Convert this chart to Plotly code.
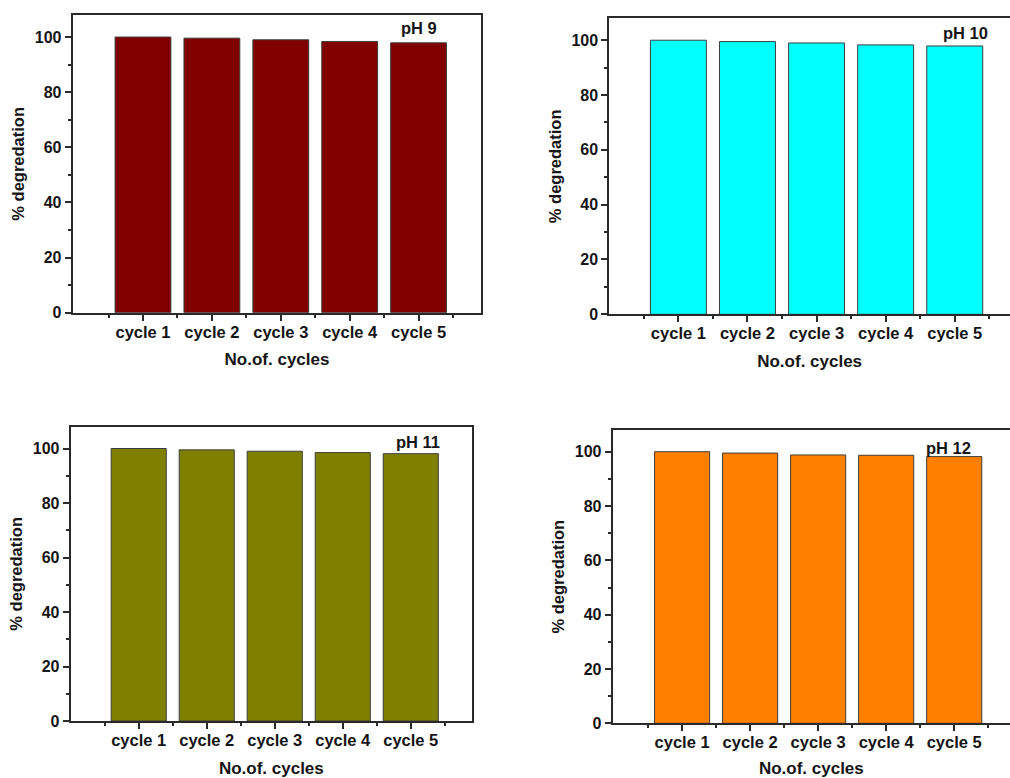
import plotly.graph_objects as go

# Degradation efficiency over five reuse cycles at four pH values
categories = ["cycle 1", "cycle 2", "cycle 3", "cycle 4", "cycle 5"]
ph9 = [100.0, 99.6, 99.0, 98.4, 97.9]
ph10 = [100.0, 99.5, 99.0, 98.3, 97.9]
ph11 = [100.0, 99.5, 99.0, 98.5, 98.1]
ph12 = [100.0, 99.5, 98.8, 98.7, 98.2]
panel_labels = ["pH 9", "pH 10", "pH 11", "pH 12"]
y_ticks = [0, 20, 40, 60, 80, 100]

W, H = 1010, 778
FONT = "Arial, 'Liberation Sans', sans-serif"
AXIS_COLOR = "#2a2a2a"
TEXT_COLOR = "#151515"

# (values, colour, x-pixel span, y-pixel span (top, bottom), x range, right frame, label x, label y)
panels = [
    (ph9, "#800000", (72.7, 481.3), (15.0, 312.7), [-1.02, 4.91], True, 4.0, 103.2),
    (ph10, "#00FFFF", (609.3, 1010.0), (18.3, 314.3), [-1.0, 4.80], False, 4.16, 102.6),
    (ph11, "#808000", (70.7, 472.0), (426.7, 721.0), [-1.0, 4.90], True, 4.11, 102.4),
    (ph12, "#FF8000", (612.7, 1010.0), (430.0, 723.3), [-1.02, 4.82], False, 3.92, 101.5),
]

fig = go.Figure()
idx = list(range(len(categories)))

for i, (vals, color, (x0, x1), (yt, yb), xr, right_frame, lx, ly) in enumerate(panels):
    n = "" if i == 0 else str(i + 1)
    fig.add_trace(go.Bar(
        x=idx, y=vals, width=0.81,
        marker=dict(color=color, line=dict(color="#3c3c3c", width=1)),
        xaxis="x" + n, yaxis="y" + n, showlegend=False,
    ))
    fig.update_layout(**{
        "xaxis" + n: dict(
            domain=[x0 / W, x1 / W], anchor="y" + n, range=xr,
            tickmode="array", tickvals=idx, ticktext=categories,
            ticks="outside", ticklen=6, tickwidth=1.5, tickcolor=AXIS_COLOR,
            ticklabelstandoff=-3,
            minor=dict(tick0=0.5, dtick=1, ticks="outside", ticklen=3,
                       tickwidth=1.5, tickcolor=AXIS_COLOR),
            showline=True, linecolor=AXIS_COLOR, linewidth=2, mirror=True,
            showgrid=False, zeroline=False, automargin=False,
            tickfont=dict(family=FONT, size=16.5, color=TEXT_COLOR, weight="bold"),
            title=dict(text="No.of. cycles", standoff=14,
                       font=dict(family=FONT, size=17, color=TEXT_COLOR, weight="bold")),
        ),
        "yaxis" + n: dict(
            domain=[1 - yb / H, 1 - yt / H], anchor="x" + n, range=[0, 108],
            tickmode="array", tickvals=y_ticks,
            ticks="outside", ticklen=6, tickwidth=1.5, tickcolor=AXIS_COLOR,
            minor=dict(tick0=10, dtick=20, ticks="outside", ticklen=3,
                       tickwidth=1.5, tickcolor=AXIS_COLOR),
            showline=True, linecolor=AXIS_COLOR, linewidth=2, mirror=right_frame,
            showgrid=False, zeroline=False, automargin=False,
            tickfont=dict(family=FONT, size=16, color=TEXT_COLOR, weight="bold"),
            title=dict(text="% degredation", standoff=6,
                       font=dict(family=FONT, size=16.5, color=TEXT_COLOR, weight="bold")),
        ),
    })
    fig.add_annotation(
        x=lx, y=ly, xref="x" + n, yref="y" + n, text=panel_labels[i],
        showarrow=False, font=dict(family=FONT, size=16.5, color=TEXT_COLOR, weight="bold"),
    )

fig.update_layout(
    width=W, height=H,
    margin=dict(l=0, r=0, t=0, b=0),
    paper_bgcolor="white", plot_bgcolor="white",
    bargap=0.19,
)

fig.write_html("out.html")
